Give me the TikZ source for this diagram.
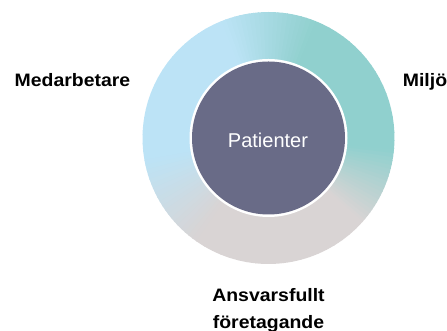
\documentclass[tikz,border=0pt]{standalone}
\usepackage{fontspec}
\setmainfont{Liberation Sans}
\newfontfamily\labfont[FakeStretch=1.08]{Liberation Sans}
\definecolor{ringblue}{HTML}{BCE3F6}
\definecolor{ringteal}{HTML}{90D0CE}
\definecolor{ringgrey}{HTML}{D9D4D4}
\definecolor{corecol}{HTML}{696B87}
\begin{document}
\begin{tikzpicture}[x=1pt,y=1pt,
  outerlabel/.style={font=\labfont\bfseries\fontsize{18}{20}\selectfont, text=black, inner sep=0pt, anchor=base},
  corelabel/.style={font=\fontsize{20}{22}\selectfont, text=white, inner sep=0pt, anchor=base}]
\useasboundingbox (0,0) rectangle (447,331);
\coordinate (c) at (268.5,193);
% conic gradient ring
\foreach \a/\b/\ca/\cb in {-42/-5/ringgrey/ringteal, -5/68/ringteal/ringteal, 68/112/ringteal/ringblue, 112/190/ringblue/ringblue, 190/235/ringblue/ringgrey, 235/318/ringgrey/ringgrey}{
  \foreach \i in {0,...,19}{
    \pgfmathsetmacro\t{\a+(\b-\a)*\i/20}
    \pgfmathsetmacro\u{\a+(\b-\a)*(\i+1)/20+0.4}
    \pgfmathtruncatemacro\p{100-5*\i-2.5}
    \colorlet{segcol}{\ca!\p!\cb}
    \fill[segcol] (c) -- ++(\t:126) arc[start angle=\t, end angle=\u, radius=126] -- cycle;
  }
}
\fill[white] (c) circle[radius=79];
\node[circle, fill=corecol, minimum size=153pt, inner sep=0pt] (core) at (c) {};
\node[corelabel] (pat) at (268,183) {Patienter};
\node[outerlabel] (med) at (72.5,244) {Medarbetare};
\node[outerlabel] (milj) at (425,244) {Miljö};
\node[outerlabel] (ans1) at (268.5,29) {Ansvarsfullt};
\node[outerlabel] (ans2) at (268.5,2.5) {företagande};
\end{tikzpicture}
\end{document}
